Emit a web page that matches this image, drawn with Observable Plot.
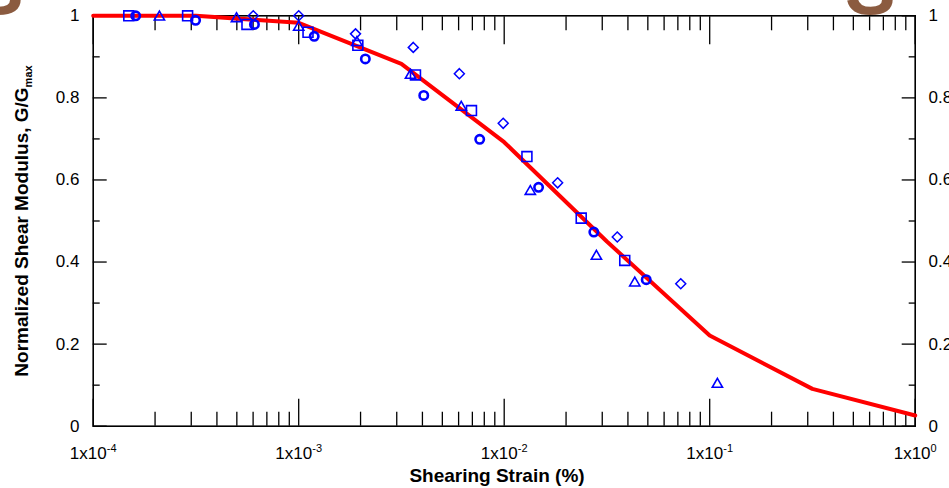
<!DOCTYPE html>
<html><head><meta charset="utf-8">
<script src="https://cdn.jsdelivr.net/npm/d3@7"></script>
<script src="https://cdn.jsdelivr.net/npm/@observablehq/plot@0.6"></script>
<style>
html,body{margin:0;padding:0;background:#fff;}
#wrap{position:relative;width:949px;height:488px;overflow:hidden;background:#fff;}
.deco{position:absolute;font-family:"Liberation Sans",Arial,sans-serif;font-weight:bold;color:#8b5b40;font-size:76px;line-height:1;}
</style></head><body>
<div id="wrap"><div id="chart"></div>
<div class="deco" style="left:-27px;top:-50px">S</div>
<div class="deco" style="left:845px;top:-50px">S</div>
</div>
<script>
// ---- data ----
const squareStrain = [1.49e-4, 2.88e-4, 5.6e-4, 1.11e-3, 1.94e-3, 3.70e-3, 6.93e-3, 1.29e-2, 2.37e-2, 3.86e-2];
const squareG      = [1.0, 1.0, 0.979, 0.960, 0.928, 0.856, 0.769, 0.657, 0.507, 0.404];

const circleStrain = [1.61e-4, 3.15e-4, 6.09e-4, 1.19e-3, 2.11e-3, 4.06e-3, 7.60e-3, 1.47e-2, 2.73e-2, 4.91e-2];
const circleG      = [1.0, 0.989, 0.979, 0.950, 0.895, 0.806, 0.699, 0.582, 0.473, 0.357];

const triangleStrain = [2.10e-4, 4.98e-4, 1.0e-3, 1.92e-3, 3.50e-3, 6.18e-3, 1.34e-2, 2.81e-2, 4.32e-2, 0.109];
const triangleG      = [0.997, 0.993, 0.972, 0.935, 0.855, 0.777, 0.572, 0.414, 0.349, 0.102];

const diamondStrain = [6.01e-4, 1.0e-3, 1.89e-3, 3.61e-3, 6.05e-3, 9.89e-3, 1.82e-2, 3.55e-2, 7.23e-2];
const diamondG      = [1.0, 1.0, 0.956, 0.923, 0.859, 0.738, 0.593, 0.461, 0.347];

const curveStrain = [1e-4, 3.16e-4, 1e-3, 3.16e-3, 1e-2, 3.16e-2, 1e-1, 3.16e-1, 1];
const curveG      = [1.0, 1.0, 0.983, 0.883, 0.692, 0.45, 0.221, 0.091, 0.026];

const xMajorTicks = [1e-4, 1e-3, 1e-2, 1e-1, 1];
const xTickExponents = ["-4", "-3", "-2", "-1", "0"];
const xMinorTicks = [2e-4,3e-4,4e-4,5e-4,6e-4,7e-4,8e-4,9e-4,
                     2e-3,3e-3,4e-3,5e-3,6e-3,7e-3,8e-3,9e-3,
                     2e-2,3e-2,4e-2,5e-2,6e-2,7e-2,8e-2,9e-2,
                     2e-1,3e-1,4e-1,5e-1,6e-1,7e-1,8e-1,9e-1];
const yMajorTicks = [0, 0.2, 0.4, 0.6, 0.8, 1];
const yTickLabels = ["0", "0.2", "0.4", "0.6", "0.8", "1"];
const yMinorTicks = [0.1, 0.3, 0.5, 0.7, 0.9];

const xTitle = "Shearing Strain (%)";
const yTitle = "Normalized Shear Modulus, G/G";
const yTitleSub = "max";

// ---- build tables ----
const mk = (xs, ys) => xs.map((x, i) => ({x, y: ys[i]}));
const squares = mk(squareStrain, squareG);
const circles = mk(circleStrain, circleG);
const triangles = mk(triangleStrain, triangleG);
const diamonds = mk(diamondStrain, diamondG);
const curve = mk(curveStrain, curveG);

const blue = "#0000ff";
const tickW = 1.3;

const chart = Plot.plot({
  width: 949, height: 488,
  marginLeft: 92.7, marginRight: 34.3, marginTop: 15.3, marginBottom: 62.3,
  x: {type: "log", domain: [1e-4, 1]},
  y: {domain: [0, 1]},
  style: {fontFamily: "'Liberation Sans', Arial, sans-serif", fontSize: "17px", color: "#000", background: "transparent", overflow: "visible"},
  marks: [
    // x axes
    Plot.axisX({anchor: "bottom", ticks: xMajorTicks, tickSize: -27, tickPadding: 47.5, strokeWidth: tickW,
      tickFormat: d => "1x10" + xTickExponents[xMajorTicks.indexOf(d)], label: null}),
    Plot.axisX({anchor: "bottom", ticks: xMinorTicks, tickSize: -14, strokeWidth: tickW, fill: "none", label: null}),
    Plot.axisX({anchor: "top", ticks: xMajorTicks, tickSize: -28, strokeWidth: tickW, fill: "none", label: null}),
    Plot.axisX({anchor: "top", ticks: xMinorTicks, tickSize: -14, strokeWidth: tickW, fill: "none", label: null}),
    // y axes
    Plot.axisY({anchor: "left", ticks: yMajorTicks, tickSize: -14, tickPadding: 27.7, strokeWidth: tickW,
      tickFormat: d => yTickLabels[yMajorTicks.indexOf(d)], label: null}),
    Plot.axisY({anchor: "left", ticks: yMinorTicks, tickSize: -7, strokeWidth: tickW, fill: "none", label: null}),
    Plot.axisY({anchor: "right", ticks: yMajorTicks, tickSize: -14, tickPadding: 27.3, strokeWidth: tickW,
      tickFormat: d => yTickLabels[yMajorTicks.indexOf(d)], label: null}),
    Plot.axisY({anchor: "right", ticks: yMinorTicks, tickSize: -7, strokeWidth: tickW, fill: "none", label: null}),
    Plot.frame({stroke: "#000", strokeWidth: 1.6}),
    // curve
    Plot.line(curve, {x: "x", y: "y", stroke: "#ff0000", strokeWidth: 4, strokeLinejoin: "round"}),
    // data
    Plot.dot(squares, {x: "x", y: "y", symbol: "square", r: 5.6, stroke: blue, strokeWidth: 1.6, fill: "none"}),
    Plot.dot(triangles, {x: "x", y: "y", symbol: "triangle", r: 3.8, stroke: blue, strokeWidth: 1.6, fill: "none"}),
    Plot.dot(diamonds, {x: "x", y: "y", symbol: "diamond2", r: 4.5, stroke: blue, strokeWidth: 1.5, fill: "none"}),
    Plot.dot(circles, {x: "x", y: "y", symbol: "circle", r: 4.2, stroke: blue, strokeWidth: 2.6, fill: "none"})
  ]
});
document.getElementById("chart").appendChild(chart);

const svg = d3.select(chart);
// superscripts on x tick labels
svg.selectAll('g[aria-label="x-axis tick label"] text').each(function() {
  const t = this.textContent;
  const base = t.slice(0, 4), exp = t.slice(4);
  const sel = d3.select(this);
  sel.text(null);
  sel.append("tspan").text(base);
  sel.append("tspan").attr("dy", -7).attr("font-size", 11).text(exp);
});
// axis titles
svg.append("text")
  .attr("x", 497).attr("y", 482)
  .attr("text-anchor", "middle")
  .attr("font-weight", "bold").attr("font-size", 19)
  .attr("fill", "#000")
  .text(xTitle);
const yt = svg.append("text")
  .attr("transform", "translate(27.5,221) rotate(-90)")
  .attr("text-anchor", "middle")
  .attr("font-weight", "bold").attr("font-size", 19)
  .attr("fill", "#000");
yt.append("tspan").text(yTitle);
yt.append("tspan").attr("dy", 4).attr("font-size", 11).text(yTitleSub);
</script>
</body></html>
